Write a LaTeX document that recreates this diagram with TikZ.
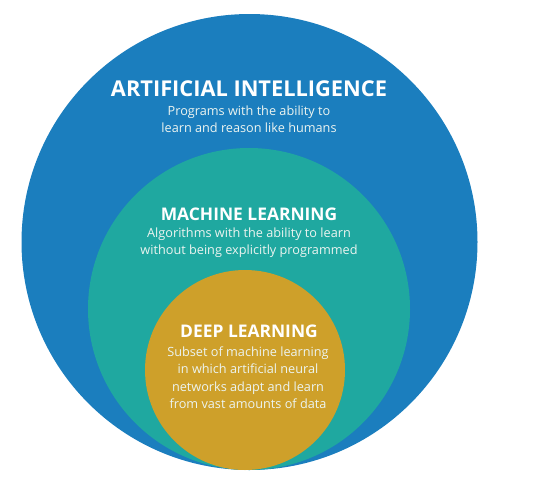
\documentclass[tikz,border=0pt]{standalone}
\usepackage{fontspec}
\setmainfont{Open Sans}
\definecolor{aiblue}{RGB}{27,126,190}
\definecolor{mlteal}{RGB}{31,168,160}
\definecolor{dlgold}{RGB}{206,160,42}
\definecolor{bodytxt}{RGB}{236,244,240}
\begin{document}
\begin{tikzpicture}[x=1pt,y=-1pt,
  title/.style={text=white,font=\bfseries\fontsize{21.8}{24}\selectfont,inner sep=0pt,anchor=base},
  subtitle/.style={text=white,font=\bfseries\fontsize{17.4}{20}\selectfont,inner sep=0pt,anchor=base},
  body/.style={text=bodytxt,font=\fontsize{12.7}{17.5}\selectfont,align=center,inner sep=0pt,anchor=base}]
\useasboundingbox (0,0) rectangle (551,482);
\fill[aiblue] (249.5,242) circle[radius=228];
\fill[mlteal] (249,309) circle[radius=161];
\fill[dlgold] (245,370) circle[radius=100];
\node[title] (ai) at (249,96) {ARTIFICIAL INTELLIGENCE};
\node[body] (aib) at (249,115) {Programs with the ability to};
\node[body] (aib2) at (249,132) {learn and reason like humans};
\node[subtitle] (ml) at (249,220) {MACHINE LEARNING};
\node[body] (mlb) at (249,237) {Algorithms with the ability to learn};
\node[body] (mlb2) at (249,254) {without being explicitly programmed};
\node[subtitle] (dl) at (249,337) {DEEP LEARNING};
\node[body] (dlb1) at (248,356) {Subset of machine learning};
\node[body] (dlb2) at (248,373) {in which artificial neural};
\node[body] (dlb3) at (248,391) {networks adapt and learn};
\node[body] (dlb4) at (248,408) {from vast amounts of data};
\end{tikzpicture}
\end{document}
